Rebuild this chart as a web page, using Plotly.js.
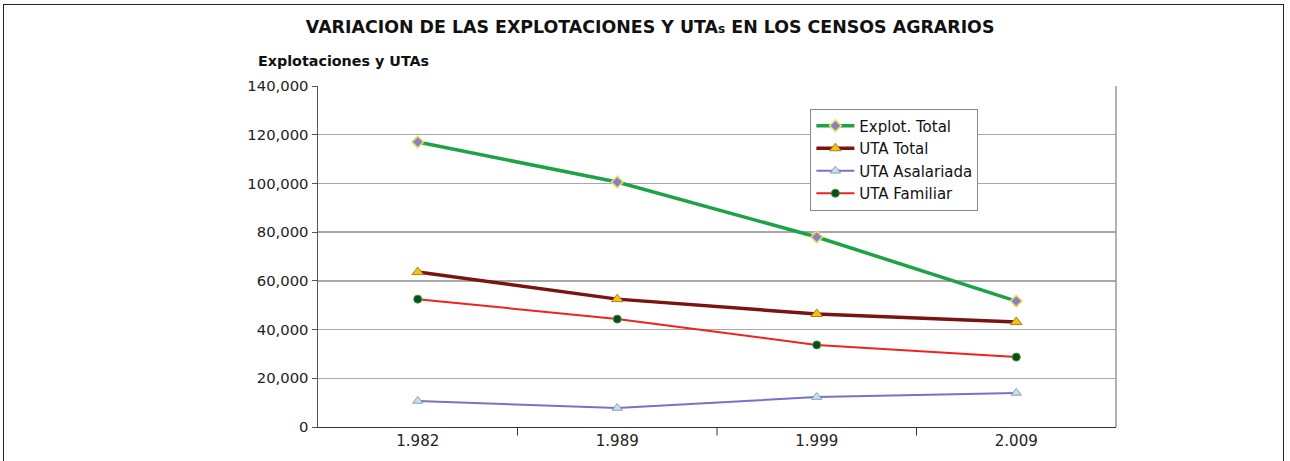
<!DOCTYPE html>
<html><head><meta charset="utf-8">
<script src="https://cdn.plot.ly/plotly-3.0.1.min.js"></script>
<style>
body{margin:0;background:#fff;}
#frame{position:absolute;left:3px;top:4px;width:1281px;height:470px;border:1.5px solid #222;box-sizing:border-box;pointer-events:none;z-index:5;}
#chart{width:1290px;height:461px;}
</style></head>
<body>
<div id="frame"></div>
<div id="chart"></div>
<script>
const years = ["1.982", "1.989", "1.999", "2.009"];
const explotTotal = [117000, 100600, 78000, 51700];
const utaTotal = [63600, 52500, 46400, 43100];
const utaAsalariada = [10700, 7800, 12300, 14000];
const utaFamiliar = [52500, 44300, 33700, 28700];
const tickVals = [0, 20000, 40000, 60000, 80000, 100000, 120000, 140000];
const tickText = ["0", "20,000", "40,000", "60,000", "80,000", "100,000", "120,000", "140,000"];

const traces = [
  {x: years, y: explotTotal, name: "Explot. Total", type: "scatter", mode: "lines+markers",
   line: {color: "#1ea246", width: 3.5},
   marker: {symbol: "diamond", size: 9, color: "#8a7fc8", line: {color: "#e8e060", width: 1.5}}},
  {x: years, y: utaTotal, name: "UTA Total", type: "scatter", mode: "lines+markers",
   line: {color: "#7a1412", width: 3.5},
   marker: {symbol: "triangle-up", size: 10, color: "#f2c21a", line: {color: "#b08010", width: 1}}},
  {x: years, y: utaAsalariada, name: "UTA Asalariada", type: "scatter", mode: "lines+markers",
   line: {color: "#7b70c8", width: 2},
   marker: {symbol: "triangle-up", size: 9, color: "#c4e0ee", line: {color: "#8aa0b0", width: 1}}},
  {x: years, y: utaFamiliar, name: "UTA Familiar", type: "scatter", mode: "lines+markers",
   line: {color: "#f0221e", width: 2},
   marker: {symbol: "circle", size: 8, color: "#0e4a1a", line: {color: "#2a9a40", width: 1}}}
];

const layout = {
  width: 1290, height: 461,
  margin: {l: 318, r: 174, t: 86, b: 34},
  paper_bgcolor: "#fff", plot_bgcolor: "#fff",
  font: {family: "DejaVu Sans, Arial, sans-serif", color: "#222"},
  title: {text: "<b>VARIACION DE LAS EXPLOTACIONES Y UTA<span style='font-size:12px'>s</span> EN LOS CENSOS AGRARIOS</b>",
          font: {size: 17.4, color: "#111"}, x: 0.504, xanchor: "center", y: 0.942, yanchor: "middle"},
  xaxis: {type: "category", range: [-0.5, 3.5], showgrid: false, showline: true, linecolor: "#333", linewidth: 1.3,
          ticks: "", tickfont: {size: 15, color: "#222"}, zeroline: false, fixedrange: true, mirror: false},
  yaxis: {range: [0, 140000], tickvals: tickVals, ticktext: tickText, showgrid: true, gridcolor: "#a8a8a8", gridwidth: 1.3,
          showline: true, linecolor: "#555", linewidth: 1.5, ticks: "outside", ticklen: 5, tickcolor: "#555",
          tickfont: {size: 14.8, color: "#222"}, zeroline: false, fixedrange: true},
  legend: {x: 0.617, y: 0.934, xanchor: "left", yanchor: "top", bgcolor: "#fff", bordercolor: "#888", borderwidth: 1,
           font: {size: 15, color: "#111"}, tracegroupgap: 0, itemwidth: 38},
  showlegend: true,
  annotations: [
    {text: "<b>Explotaciones y UTAs</b>", xref: "paper", yref: "paper", x: -0.078, y: 1.073, xanchor: "left", yanchor: "middle",
     showarrow: false, font: {size: 14.3, color: "#111"}}
  ],
  shapes: [
    {type: "line", xref: "paper", yref: "paper", x0: 1, x1: 1, y0: 0, y1: 1, line: {color: "#999", width: 1.5}},
    {type: "line", xref: "x", yref: "paper", x0: 0.5, x1: 0.5, y0: 0, y1: -0.025, line: {color: "#333", width: 1}},
    {type: "line", xref: "x", yref: "paper", x0: 1.5, x1: 1.5, y0: 0, y1: -0.025, line: {color: "#333", width: 1}},
    {type: "line", xref: "x", yref: "paper", x0: 2.5, x1: 2.5, y0: 0, y1: -0.025, line: {color: "#333", width: 1}}
  ]
};
Plotly.newPlot("chart", traces, layout, {displayModeBar: false, staticPlot: true});
</script>
</body></html>
